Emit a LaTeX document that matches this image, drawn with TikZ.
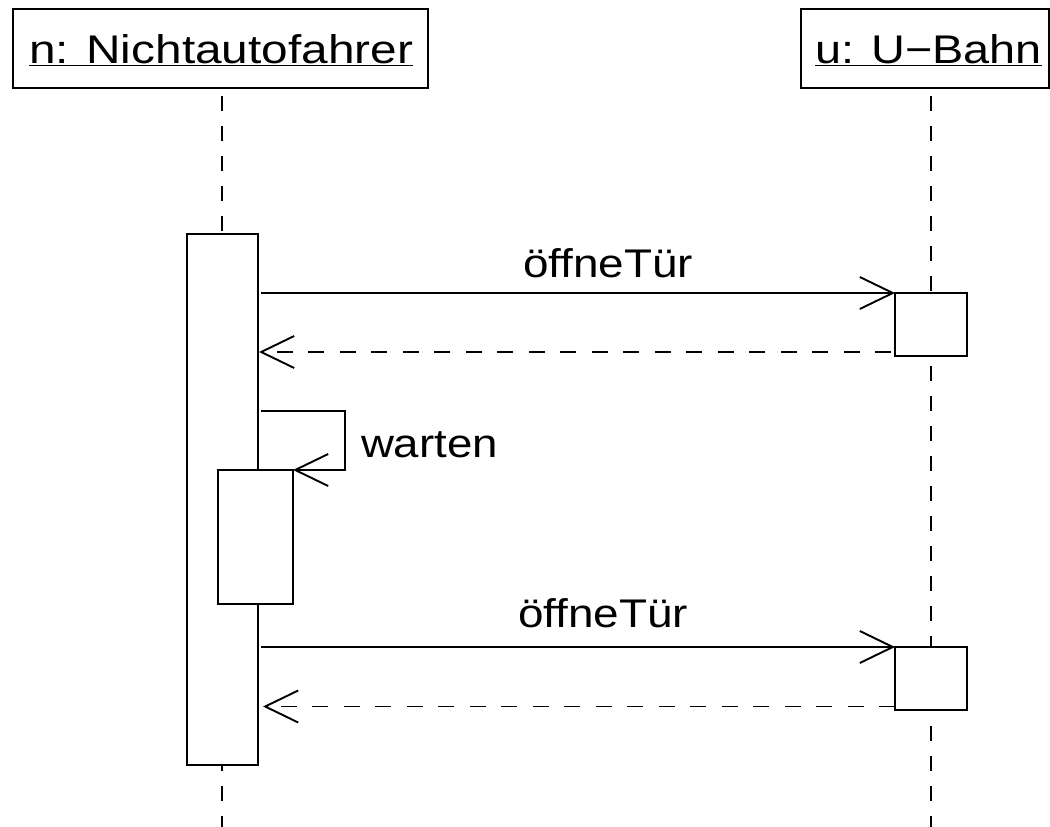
\documentclass[tikz,border=0pt]{standalone}
\usepackage{fontspec}
\setmainfont{Liberation Sans}
\usetikzlibrary{arrows.meta,calc}
\begin{document}
\begin{tikzpicture}[x=1pt,y=-1pt,
  every node/.style={inner sep=0pt, outer sep=0pt},
  lw/.style={line width=1.9pt},
  objbox/.style={draw, lw, fill=white, minimum width=#1, minimum height=79pt},
  actbar/.style={draw, lw, fill=white},
  lifeline/.style={lw, dash pattern=on 15pt off 15pt, dash phase=22pt},
  lbl/.style={font=\fontsize{40}{48}\selectfont},
  uline/.style={lw},
  tip/.style={-{Straight Barb[length=33pt, width=32pt, line width=1.9pt]}},
  msg/.style={lw, tip},
  ret/.style={lw, tip, dash pattern=on 16pt off 15.5pt, dash phase=27.5pt},
]
\fill[white] (0,0) rectangle (1050,827);
\useasboundingbox (0,0) rectangle (1050,827);

% object headers
\node[objbox=415pt] (hdrN) at (220.5,48.5) {};
\node[objbox=248pt] (hdrU) at (925,48.5) {};
\node[lbl, anchor=base west] (tN) at (29,63) {\resizebox{384pt}{\height}{n: Nichtautofahrer}};
\node[lbl, anchor=base west] (tU) at (815,63) {\resizebox{227pt}{\height}{u: U−Bahn}};
\draw[uline] ([yshift=-2.5pt]tN.base west) -- ([yshift=-2.5pt]tN.base east);
\draw[uline] ([yshift=-2.5pt]tU.base west) -- ([yshift=-2.5pt]tU.base east);

% lifelines
\coordinate (nEnd) at (222,827);
\coordinate (uEnd) at (931,827);
\draw[lifeline] (nEnd |- hdrN.south) -- (nEnd);
\draw[lifeline] (uEnd |- hdrU.south) -- (uEnd);

% activation bars
\node[actbar, minimum width=71pt, minimum height=531pt] (actN) at (222.5,499.5) {};
\node[actbar, minimum width=75pt, minimum height=134pt] (actN2) at (255.5,537) {};
\node[actbar, minimum width=72pt, minimum height=63pt] (actU1) at (931,324.5) {};
\node[actbar, minimum width=72pt, minimum height=63pt] (actU2) at (931,678.5) {};

% first call and its return
\draw[msg] ($(actN.east |- actU1.north west)+(3,0)$) -- (actU1.north west);
\draw[ret] ($(actU1.south west)+(0,-4)$) -- ($(actN.east |- actU1.south west)+(1,-4)$);
\node[lbl, anchor=base] (lM1) at (608,277) {\resizebox{170pt}{\height}{öffneTür}};

% self call
\coordinate (wStart) at (261,411);
\draw[msg] (wStart) -| ($(actN2.north east)+(52,0)$) -- (actN2.north east);
\node[lbl, anchor=base west] (lW) at (361,457) {\resizebox{137pt}{\height}{warten}};

% second call and its return
\draw[msg] ($(actN.east |- actU2.north west)+(3,0)$) -- (actU2.north west);
\draw[ret, dash phase=0pt] ($(actU2.south west)+(0,-3.5)$) -- ($(actN.east |- actU2.south west)+(5,-3.5)$);
\node[lbl, anchor=base] (lM2) at (603,627) {\resizebox{170pt}{\height}{öffneTür}};
\end{tikzpicture}
\end{document}
